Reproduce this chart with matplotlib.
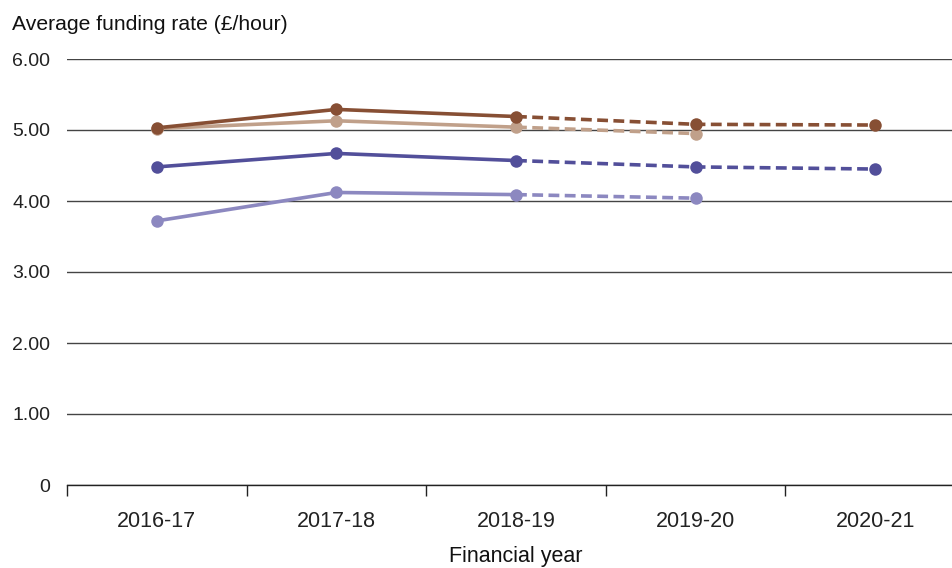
import matplotlib
matplotlib.use('Agg')
import matplotlib.pyplot as plt

plt.rcParams['font.family'] = ['Liberation Sans', 'DejaVu Sans']

# Dados
anos = ['2016-17', '2017-18', '2018-19', '2019-20', '2020-21']
marrom_escuro = [5.03, 5.29, 5.19, 5.08, 5.07]
marrom_claro = [5.02, 5.13, 5.04, 4.95]
roxo_escuro = [4.48, 4.67, 4.57, 4.48, 4.45]
roxo_claro = [3.72, 4.12, 4.09, 4.04]

yticks = [0, 1, 2, 3, 4, 5, 6]
ylabels = ['0', '1.00', '2.00', '3.00', '4.00', '5.00', '6.00']

fig = plt.figure(figsize=(9.53, 5.68), dpi=100)
ax = fig.add_axes([67 / 953, 83 / 568, 898 / 953, 426 / 568])

series = [
    (roxo_claro, '#8c88c0'),
    (roxo_escuro, '#524f9a'),
    (marrom_claro, '#c0a08a'),
    (marrom_escuro, '#874f34'),
]

for valores, cor in series:
    x = list(range(len(valores)))
    # parte sólida até 2018-19, tracejada depois
    ax.plot(x[:3], valores[:3], color=cor, lw=2.6, solid_capstyle='round', zorder=3)
    ax.plot(x[2:], valores[2:], color=cor, lw=2.6, linestyle=(0, (3.0, 1.5)), zorder=3)
    ax.plot(x, valores, 'o', color=cor, markersize=9, markeredgewidth=0, zorder=4)

ax.set_xlim(-0.5, 4.5)
ax.set_ylim(0, 6)
ax.set_yticks(yticks)
ax.set_yticklabels(ylabels)
ax.set_xticks(range(len(anos)))
ax.set_xticklabels(anos)
ax.set_xticks([-0.5, 0.5, 1.5, 2.5, 3.5], minor=True)

ax.tick_params(axis='y', length=0, pad=12, labelsize=14, labelcolor='#222222')
ax.tick_params(axis='x', which='major', length=0, pad=19, labelsize=15.5, labelcolor='#222222')
ax.tick_params(axis='x', which='minor', length=8, width=1, color='#222222', direction='out')

for lado in ['left', 'top', 'right']:
    ax.spines[lado].set_visible(False)
ax.spines['bottom'].set_color('#222222')
ax.spines['bottom'].set_linewidth(1)

ax.yaxis.grid(True, color='#444444', linewidth=1)
ax.set_axisbelow(True)

ax.set_xlabel('Financial year', fontsize=15.5, labelpad=10, color='#111111')
fig.text(12 / 953, 1 - 25 / 568, 'Average funding rate (£/hour)', fontsize=15.2,
         ha='left', va='center', color='#111111')

fig.savefig('out.png', dpi=100)
